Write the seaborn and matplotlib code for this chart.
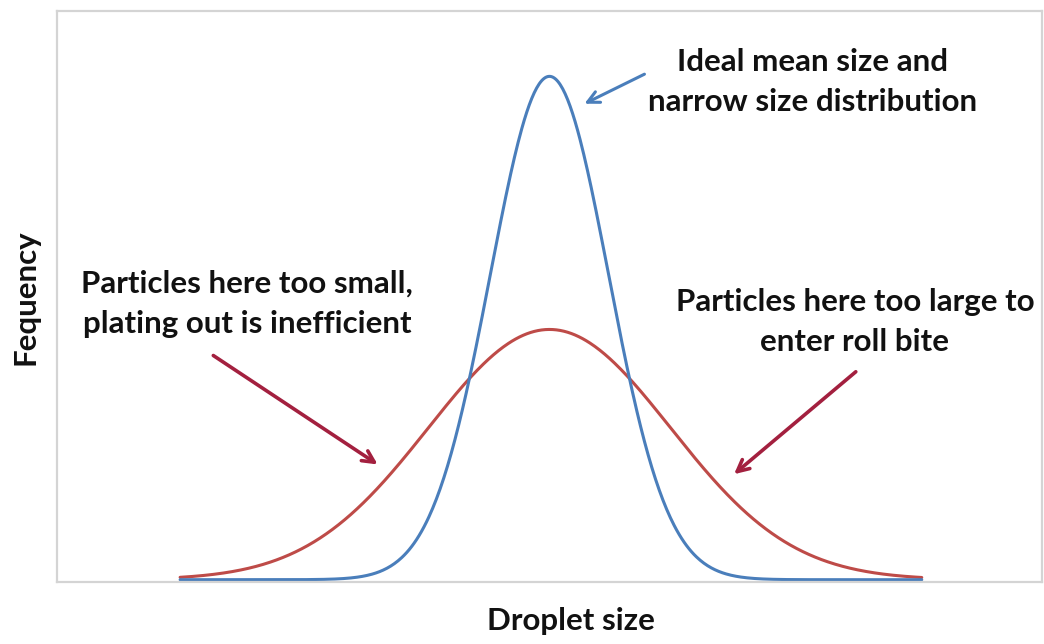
import numpy as np
import pandas as pd
import matplotlib
matplotlib.use("Agg")
import matplotlib.pyplot as plt
import seaborn as sns

# Two normal droplet-size distributions (arbitrary size units, 0-10 axis)
series_names = ["Narrow", "Broad"]
series_means = [5.0, 5.0]
series_sigmas = [0.60, 1.23]
series_peaks = [0.885, 0.44]
size_range = [1.25, 8.78]

blue = "#4A7EBB"
red = "#BE4B48"
arrow_red = "#A3203F"

sns.set_theme(style="white")
plt.rcParams["font.family"] = ["Lato", "DejaVu Sans"]

x = np.linspace(size_range[0], size_range[1], 600)
frames = []
for name, mu, sd, pk in zip(series_names, series_means, series_sigmas, series_peaks):
    frames.append(pd.DataFrame({"size": x,
                                "freq": pk * np.exp(-0.5 * ((x - mu) / sd) ** 2),
                                "dist": name}))
df = pd.concat(frames, ignore_index=True)

fig = plt.figure(figsize=(10.44, 6.44), dpi=100)
ax = fig.add_axes([0.0546, 0.0963, 0.9434, 0.8867])

sns.lineplot(data=df, x="size", y="freq", hue="dist", hue_order=["Broad", "Narrow"],
             palette={"Narrow": blue, "Broad": red}, linewidth=2.2,
             legend=False, ax=ax)

ax.set_xlim(0, 10)
ax.set_ylim(-0.004, 1.0)
ax.set_xticks([])
ax.set_yticks([])
for s in ax.spines.values():
    s.set_color("#D4D4D4")
    s.set_linewidth(1.6)


def px(xp, yp):
    # figure pixel -> axes fraction helper for label and annotation placement
    return ((xp - 57) / 985, (582 - yp) / 571)


FS = 22.5
ax.set_xlabel("Droplet size", fontsize=FS, fontweight="bold", color="#111111")
ax.xaxis.set_label_coords(*px(571, 607))
ax.set_ylabel("Fequency", fontsize=FS, fontweight="bold", color="#111111")
ax.yaxis.set_label_coords(*px(39, 297))

txt_kw = dict(xycoords="axes fraction", textcoords="axes fraction", fontsize=FS,
              fontweight="bold", ha="center", va="center", linespacing=1.55,
              color="#111111")

ax.annotate("Ideal mean size and\nnarrow size distribution",
            xy=px(582, 105), xytext=px(813, 82), **txt_kw)
ax.annotate("", xy=px(582, 105), xytext=px(647, 73), xycoords="axes fraction",
            textcoords="axes fraction",
            arrowprops=dict(arrowstyle="->,head_length=0.7,head_width=0.35",
                            color=blue, lw=2.2))

ax.annotate("Particles here too small,\nplating out is inefficient",
            xy=px(380, 466), xytext=px(247, 304), **txt_kw)
ax.annotate("", xy=px(380, 466), xytext=px(211, 354), xycoords="axes fraction",
            textcoords="axes fraction",
            arrowprops=dict(arrowstyle="->,head_length=0.7,head_width=0.35",
                            color=arrow_red, lw=2.6))

ax.annotate("Particles here too large to\nenter roll bite",
            xy=px(732, 476), xytext=px(855, 322), **txt_kw)
ax.annotate("", xy=px(732, 476), xytext=px(858, 370), xycoords="axes fraction",
            textcoords="axes fraction",
            arrowprops=dict(arrowstyle="->,head_length=0.7,head_width=0.35",
                            color=arrow_red, lw=2.6))

fig.savefig("out.png", dpi=100)
